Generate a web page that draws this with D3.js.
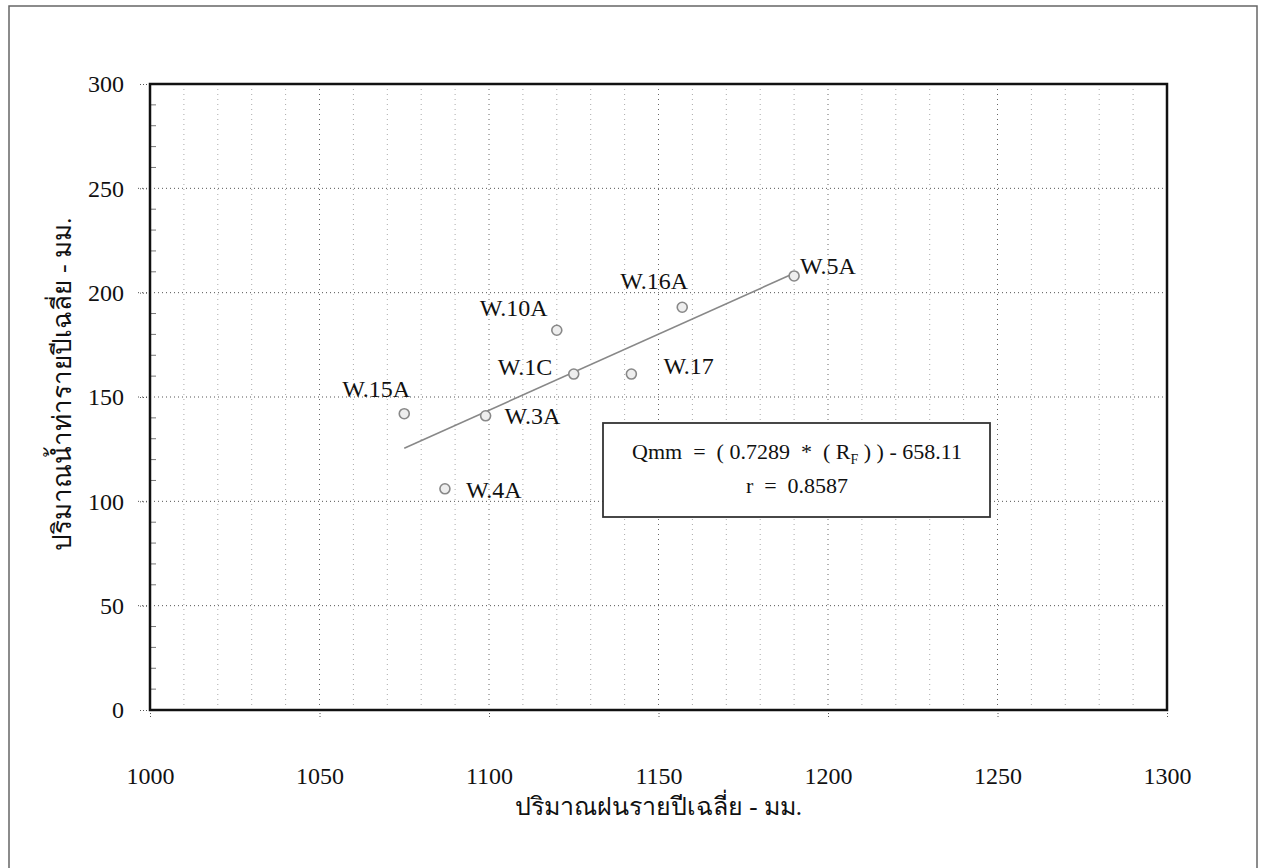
<!DOCTYPE html>
<html>
<head>
<meta charset="utf-8">
<script src="https://cdn.jsdelivr.net/npm/d3@7"></script>
<style>
  body { margin: 0; background: #fff; }
  svg { display: block; }
</style>
</head>
<body>
<div id="chart"></div>
<script>
// data
const stations = ["W.15A", "W.4A", "W.3A", "W.10A", "W.1C", "W.17", "W.16A", "W.5A"];
const rainfall = [1075, 1087, 1099, 1120, 1125, 1142, 1157, 1190];   // mm/yr
const runoff   = [142, 106, 141, 182, 161, 161, 193, 208];            // mm/yr
const xTicks = [1000, 1050, 1100, 1150, 1200, 1250, 1300];
const yTicks = [0, 50, 100, 150, 200, 250, 300];
const slope = 0.7289;
const intercept = -658.11;
const rValue = 0.8587;

// label placement relative to each point (dx, dy)
const labelOffsets = {
  "W.15A": [-62, -17], "W.4A": [21, 9], "W.3A": [19, 8], "W.10A": [-77, -14],
  "W.1C": [-76, 1], "W.17": [32, 0], "W.16A": [-62, -18], "W.5A": [6, -2]
};

const width = 1266;
const height = 868;
const margin = { top: 84, right: 99, bottom: 158, left: 150 };
const innerW = width - margin.left - margin.right;
const innerH = height - margin.top - margin.bottom;
const serif = "'Liberation Serif', 'Times New Roman', serif";

const svg = d3.select("#chart").append("svg")
  .attr("width", width)
  .attr("height", height);

// outer frame
svg.append("rect")
  .attr("x", 9).attr("y", 6)
  .attr("width", 1248).attr("height", 870)
  .attr("fill", "none")
  .attr("stroke", "#666")
  .attr("stroke-width", 1.5);

const g = svg.append("g").attr("transform", `translate(${margin.left},${margin.top})`);

const x = d3.scaleLinear().domain([1000, 1300]).range([0, innerW]);
const y = d3.scaleLinear().domain([0, 300]).range([innerH, 0]);

// grid
g.append("g")
  .selectAll("line")
  .data(d3.range(1010, 1300, 10))
  .join("line")
  .attr("x1", d => x(d)).attr("x2", d => x(d))
  .attr("y1", 0).attr("y2", innerH)
  .attr("stroke", d => d % 50 === 0 ? "#666" : "#aaa")
  .attr("stroke-width", 1)
  .attr("stroke-dasharray", "1,4");

g.append("g")
  .selectAll("line")
  .data(yTicks.slice(1, -1))
  .join("line")
  .attr("x1", -12).attr("x2", innerW)
  .attr("y1", d => y(d)).attr("y2", d => y(d))
  .attr("stroke", "#555")
  .attr("stroke-width", 1)
  .attr("stroke-dasharray", "1,3");

// minor ticks inside left axis
g.append("g")
  .selectAll("line")
  .data(d3.range(10, 300, 10).filter(d => d % 50 !== 0))
  .join("line")
  .attr("x1", 0).attr("x2", 6)
  .attr("y1", d => y(d)).attr("y2", d => y(d))
  .attr("stroke", "#777");

// axes
const gx = g.append("g").attr("transform", `translate(0,${innerH})`)
  .call(d3.axisBottom(x).tickValues(xTicks).tickSize(9).tickPadding(48).tickFormat(d3.format("d")));
const gy = g.append("g")
  .call(d3.axisLeft(y).tickValues(yTicks).tickSize(12).tickPadding(14));

[gx, gy].forEach(a => {
  a.select(".domain").remove();
  a.selectAll(".tick line").attr("stroke", "#555").attr("stroke-dasharray", "1,2");
  a.selectAll(".tick text")
    .attr("font-family", serif)
    .attr("font-size", 24)
    .attr("fill", "#111");
});

// plot frame
g.append("rect")
  .attr("width", innerW).attr("height", innerH)
  .attr("fill", "none")
  .attr("stroke", "#111")
  .attr("stroke-width", 2.5);

// regression line across data range
const xLine = d3.extent(rainfall);
g.append("path")
  .datum(xLine)
  .attr("fill", "none")
  .attr("stroke", "#888")
  .attr("stroke-width", 1.6)
  .attr("d", d3.line().x(d => x(d)).y(d => y(slope * d + intercept)));

// points
const pts = stations.map((s, i) => ({ s, rx: rainfall[i], q: runoff[i] }));

g.selectAll("circle.pt")
  .data(pts)
  .join("circle")
  .attr("class", "pt")
  .attr("cx", d => x(d.rx))
  .attr("cy", d => y(d.q))
  .attr("r", 5)
  .attr("fill", "#eee")
  .attr("stroke", "#888")
  .attr("stroke-width", 1.6);

g.selectAll("text.lbl")
  .data(pts)
  .join("text")
  .attr("class", "lbl")
  .attr("x", d => x(d.rx) + labelOffsets[d.s][0])
  .attr("y", d => y(d.q) + labelOffsets[d.s][1])
  .attr("font-family", serif)
  .attr("font-size", 24)
  .attr("fill", "#111")
  .text(d => d.s);

// equation box
const box = g.append("g").attr("transform", `translate(${603 - margin.left},${423 - margin.top})`);
box.append("rect")
  .attr("width", 387).attr("height", 94)
  .attr("fill", "#fff")
  .attr("stroke", "#333")
  .attr("stroke-width", 1.8);

const eq = box.append("text")
  .attr("x", 194).attr("y", 36)
  .attr("text-anchor", "middle")
  .attr("font-family", serif)
  .attr("font-size", 22)
  .attr("fill", "#111")
  .attr("xml:space", "preserve");
eq.append("tspan").text(`Qmm  =  ( ${slope}  *  ( R`);
eq.append("tspan").attr("font-size", 14).attr("dy", 5).text("F");
eq.append("tspan").attr("dy", -5).text(` ) ) - ${(-intercept).toFixed(2)}`);

box.append("text")
  .attr("x", 194).attr("y", 70)
  .attr("text-anchor", "middle")
  .attr("font-family", serif)
  .attr("font-size", 22)
  .attr("fill", "#111")
  .attr("xml:space", "preserve")
  .text(`r  =  ${rValue}`);

// axis titles
svg.append("text")
  .attr("x", margin.left + innerW / 2)
  .attr("y", 815)
  .attr("text-anchor", "middle")
  .attr("font-family", serif)
  .attr("font-size", 25)
  .attr("fill", "#111")
  .text("ปริมาณฝนรายปีเฉลี่ย - มม.");

svg.append("text")
  .attr("transform", `translate(71, 384) rotate(-90)`)
  .attr("text-anchor", "middle")
  .attr("font-family", serif)
  .attr("font-size", 26)
  .attr("fill", "#111")
  .text("ปริมาณน้ำท่ารายปีเฉลี่ย - มม.");
</script>
</body>
</html>
